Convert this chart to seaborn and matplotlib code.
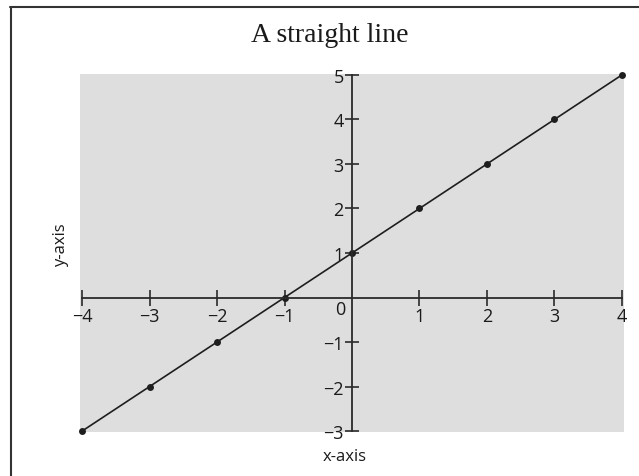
import matplotlib
matplotlib.use("Agg")
import matplotlib.pyplot as plt
from matplotlib.lines import Line2D
import seaborn as sns
import pandas as pd

x_values = [-4, -3, -2, -1, 0, 1, 2, 3, 4]
y_values = [-3, -2, -1, 0, 1, 2, 3, 4, 5]
x_ticks = [-4, -3, -2, -1, 1, 2, 3, 4]
y_ticks = [-3, -2, -1, 1, 2, 3, 4, 5]
title = "A straight line"

sns.set_style("white")
plt.rcParams['font.family'] = ['Open Sans', 'DejaVu Sans']

W, H = 639, 477
fig = plt.figure(figsize=(W / 100, H / 100), dpi=100)
ax = fig.add_axes([80 / W, 1 - 433 / H, (624 - 80) / W, (433 - 75) / H])
ax.set_facecolor("#dedede")

df = pd.DataFrame({"x": x_values, "y": y_values})
sns.lineplot(data=df, x="x", y="y", ax=ax, color="#1e1e1e", linewidth=1.2,
             marker="o", markersize=5, markeredgewidth=0, markerfacecolor="#1e1e1e",
             clip_on=False)

ax.set_xlim(-4.03, 4.03)
ax.set_ylim(-3.02, 5.02)

for s in ["top", "right"]:
    ax.spines[s].set_visible(False)
ax.spines["left"].set_position(("data", 0))
ax.spines["bottom"].set_position(("data", 0))
ax.spines["left"].set_bounds(-3, 5)
ax.spines["bottom"].set_bounds(-4, 4)
for s in ["left", "bottom"]:
    ax.spines[s].set_color("#2a2a2a")
    ax.spines[s].set_linewidth(1.3)

ax.set_xticks(x_ticks)
ax.set_yticks(y_ticks)
ax.tick_params(axis="x", bottom=True, direction="inout", length=12, width=1.2, colors="#2a2a2a",
               labelsize=13, pad=1, labelcolor="#1a1a1a")
ax.tick_params(axis="y", left=True, direction="inout", length=10, width=1.2, colors="#2a2a2a",
               labelsize=13, pad=1, labelcolor="#1a1a1a")
ax.set_xticklabels([str(v).replace("-", "\u2212") for v in x_ticks])
ax.set_yticklabels([str(v).replace("-", "\u2212") for v in y_ticks])
ax.set_xlabel("")
ax.set_ylabel("")

ax.annotate("0", xy=(0, 0), xycoords="data", xytext=(-12, -11),
            textcoords="offset pixels", ha="center", va="center",
            fontsize=13, color="#1a1a1a")

fig.text(330 / W, 1 - 35 / H, title, ha="center", va="center",
         fontsize=20, family=["Liberation Serif", "DejaVu Serif"], color="#1a1a1a")
fig.text(345 / W, 1 - 457 / H, "x-axis", ha="center", va="center",
         fontsize=12, color="#1a1a1a")
fig.text(61 / W, 1 - 245 / H, "y-axis", ha="center", va="center",
         rotation=90, fontsize=12, color="#1a1a1a")

fig.add_artist(Line2D([10 / W, 1.0], [1 - 8 / H, 1 - 8 / H], transform=fig.transFigure,
                      color="#333333", linewidth=1.5))
fig.add_artist(Line2D([11 / W, 11 / W], [1 - 8 / H, 0.0], transform=fig.transFigure,
                      color="#333333", linewidth=1.5))

fig.savefig("out.png", dpi=100)
